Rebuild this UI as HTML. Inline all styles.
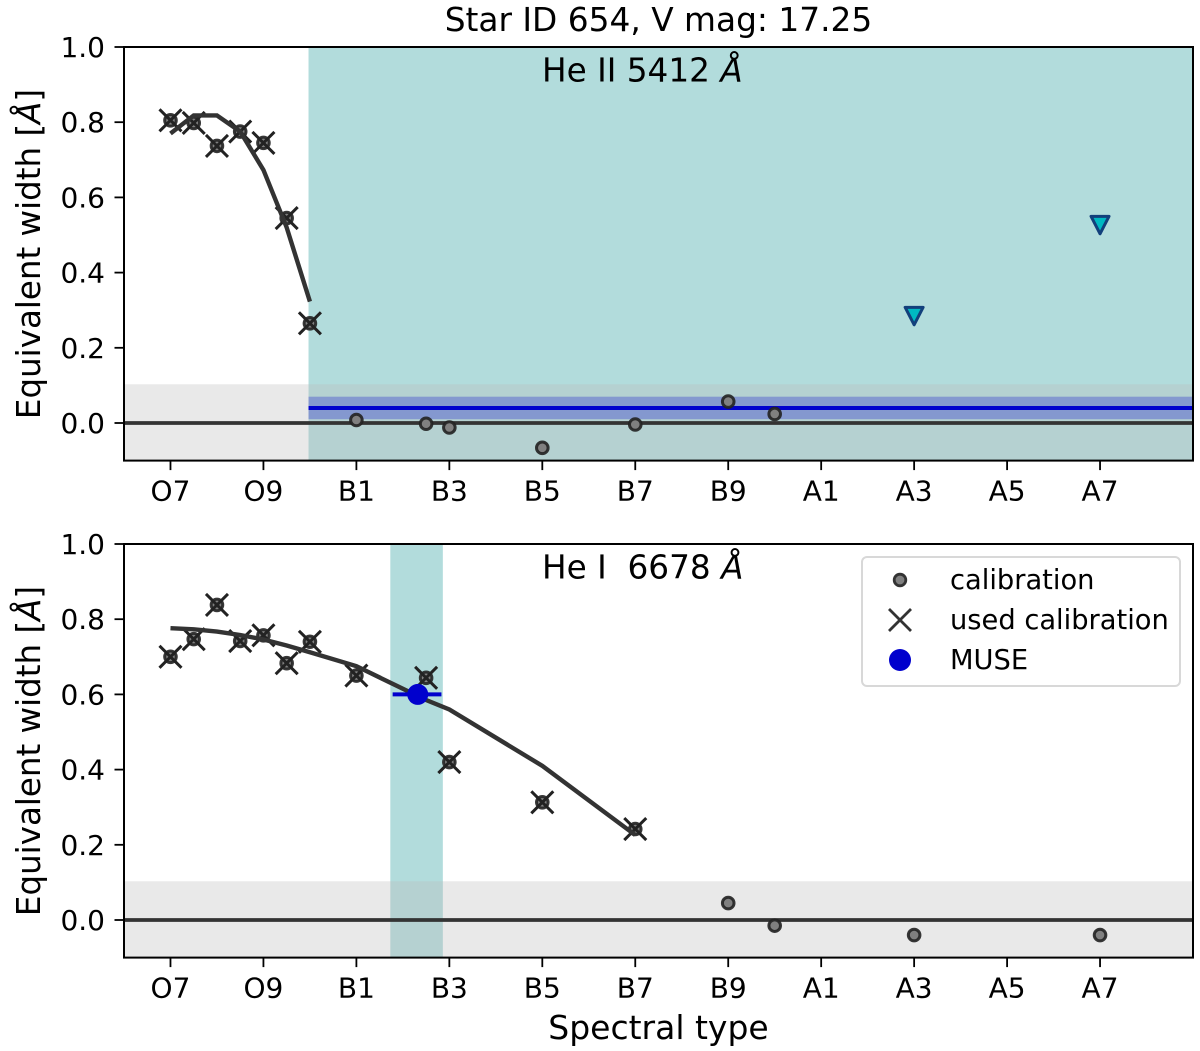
<!DOCTYPE html>
<html lang="en">
<head>
<meta charset="utf-8">
<title>Star ID 654 equivalent widths</title>
<style>
html,body{margin:0;padding:0;background:#fff;}
svg{display:block;}
text{font-family:"DejaVu Sans",sans-serif;fill:#000;}
</style>
</head>
<body>
<svg id="chart" xmlns="http://www.w3.org/2000/svg" width="1200" height="1051" viewBox="0 0 1200 1051">
<text x="658.5" y="31" font-size="32.8" text-anchor="middle">Star ID 654, V mag: 17.25</text>
<g id="panel-top"></g>
<g id="panel-bottom"></g>
<text x="658.5" y="1039" font-size="33" text-anchor="middle">Spectral type</text>
<g>
<rect x="862" y="557" width="318" height="129" rx="5" fill="#fff" stroke="#d8d8d8" stroke-width="2"/>
<circle cx="900" cy="580" r="5.8" fill="#808080" stroke="#333" stroke-width="2.8"/>
<text x="950" y="589" font-size="27.3">calibration</text>
<path d="M889 609L911 631M889 631L911 609" stroke="#333" stroke-width="2.8" fill="none"/>
<text x="950" y="629" font-size="27.3">used calibration</text>
<circle cx="900" cy="660" r="11" fill="#0000cd"/>
<text x="950" y="669" font-size="27.3">MUSE</text>
</g>
</svg>
<script>
const tickLabels = ['O7','O9','B1','B3','B5','B7','B9','A1','A3','A5','A7'];
const tickTypes = [0,2,4,6,8,10,12,14,16,18,20];
const yTicks = [0,0.2,0.4,0.6,0.8,1.0];

const topCalibX = [0,0.5,1,1.5,2,2.5,3,4,5.5,6,8,10,12,13];
const topCalibY = [0.805,0.798,0.737,0.775,0.745,0.545,0.265,0.008,-0.002,-0.012,-0.066,-0.004,0.057,0.024];
const topUsedX = [0,0.5,1,1.5,2,2.5,3];
const topUsedY = [0.805,0.798,0.737,0.775,0.745,0.545,0.265];
const topFitX = [0,0.5,1,1.5,2,2.5,3];
const topFitY = [0.77,0.818,0.818,0.775,0.673,0.52,0.323];
const topLimitX = [16,20];
const topLimitY = [0.285,0.527];
const topSpan = [2.97,22];
const topMuseValue = [0.04];
const topMuseRange = [0.01,0.07];

const bottomCalibX = [0,0.5,1,1.5,2,2.5,3,4,5.5,6,8,10,12,13,16,20];
const bottomCalibY = [0.70,0.747,0.838,0.742,0.757,0.683,0.74,0.65,0.644,0.42,0.313,0.242,0.045,-0.015,-0.04,-0.04];
const bottomUsedX = [0,0.5,1,1.5,2,2.5,3,4,5.5,6,8,10];
const bottomUsedY = [0.70,0.747,0.838,0.742,0.757,0.683,0.74,0.65,0.644,0.42,0.313,0.242];
const bottomFitX = [0,0.5,1,1.5,2,2.5,3,4,5.5,6,8,10];
const bottomFitY = [0.776,0.773,0.767,0.758,0.746,0.73,0.712,0.675,0.585,0.56,0.41,0.226];
const bottomSpan = [4.73,5.86];
const museX = [5.32];
const museY = [0.60];
const museXRange = [4.78,5.83];
const museYRange = [0.578,0.622];

const NS = 'http://www.w3.org/2000/svg';
const AX_LEFT = 124, AX_RIGHT = 1193, X_MIN = -1, X_MAX = 22;
const Y_MIN = -0.1, Y_MAX = 1.0, AX_H = 413.6;

function xScale(v){ return AX_LEFT + (v - X_MIN) / (X_MAX - X_MIN) * (AX_RIGHT - AX_LEFT); }
function yScale(v, top){ return top + (Y_MAX - v) / (Y_MAX - Y_MIN) * AX_H; }
function make(parent, tag, attrs){
  const el = document.createElementNS(NS, tag);
  for (const k in attrs) el.setAttribute(k, attrs[k]);
  parent.appendChild(el);
  return el;
}

function drawPanel(g, top, p){
  const y = v => yScale(v, top);
  const bg = make(g, 'rect', {x:AX_LEFT, y:top, width:AX_RIGHT-AX_LEFT, height:AX_H, fill:'#fff'});
  
  

  const span = make(g, 'rect', {x:xScale(p.span[0]), y:top, width:xScale(p.span[1])-xScale(p.span[0]), height:AX_H, fill:'rgb(178,220,220)'});
  
  

  const grey = make(g, 'rect', {x:AX_LEFT, y:y(0.103), width:AX_RIGHT-AX_LEFT, height:y(Y_MIN)-y(0.103), fill:'rgb(188,188,188)', 'fill-opacity':0.325});
  
  

  if (p.museValue) {
    const band = make(g, 'rect', {x:xScale(p.span[0]), y:y(p.museRange[1]), width:xScale(p.span[1])-xScale(p.span[0]), height:y(p.museRange[0])-y(p.museRange[1]), fill:'#0000cd', 'fill-opacity':0.27});
    
    
  }

  const zero = make(g, 'line', {x1:AX_LEFT, x2:AX_RIGHT, y1:y(0), y2:y(0), stroke:'#333', 'stroke-width':3.8});
  
  

  if (p.museValue) {
    const mline = make(g, 'line', {x1:xScale(p.span[0]), x2:xScale(p.span[1]), y1:y(p.museValue[0]), y2:y(p.museValue[0]), stroke:'#0000cd', 'stroke-width':4});
    
    
  }

  p.calibX.forEach((vx, i) => {
    const c = make(g, 'circle', {cx:xScale(vx), cy:y(p.calibY[i]), r:5.8, fill:'#808080', stroke:'#222', 'stroke-width':3, 'stroke-opacity':0.9});
    
    
  });

  p.usedX.forEach((vx, i) => {
    const cx = xScale(vx), cy = y(p.usedY[i]);
    const m = make(g, 'path', {d:`M${cx-11} ${cy-11}L${cx+11} ${cy+11}M${cx-11} ${cy+11}L${cx+11} ${cy-11}`, stroke:'#222', 'stroke-width':3, fill:'none'});
    
    
  });

  const fit = make(g, 'polyline', {points:p.fitX.map((vx,i)=>xScale(vx)+','+y(p.fitY[i])).join(' '), fill:'none', stroke:'#333', 'stroke-width':4.4});
  
  

  if (p.limitX) {
    p.limitX.forEach((vx, i) => {
      const cx = xScale(vx), cy = y(p.limitY[i]);
      const t = make(g, 'polygon', {points:`${cx-9},${cy-8.5} ${cx+9},${cy-8.5} ${cx},${cy+9}`, fill:'#00b9c2', stroke:'#12407c', 'stroke-width':3, 'stroke-linejoin':'round'});
      
      
    });
  }

  if (p.pointX) {
    const cx = xScale(p.pointX[0]), cy = y(p.pointY[0]);
    const eh = make(g, 'line', {x1:xScale(p.pointXRange[0]), x2:xScale(p.pointXRange[1]), y1:cy, y2:cy, stroke:'#0000cd', 'stroke-width':4});
    
    
    const ev = make(g, 'line', {x1:cx, x2:cx, y1:y(p.pointYRange[0]), y2:y(p.pointYRange[1]), stroke:'#0000cd', 'stroke-width':5});
    
    
    const pt = make(g, 'circle', {cx:cx, cy:cy, r:10.5, fill:'#0000cd'});
    
    
  }

  const frame = make(g, 'rect', {x:AX_LEFT, y:top, width:AX_RIGHT-AX_LEFT, height:AX_H, fill:'none', stroke:'#000', 'stroke-width':2});
  
  

  tickTypes.forEach((vx, i) => {
    const tx = xScale(vx), base = top + AX_H;
    const tick = make(g, 'line', {x1:tx, x2:tx, y1:base, y2:base+9.5, stroke:'#000', 'stroke-width':1.8});
    
    
    const lab = make(g, 'text', {x:tx, y:base+40, 'font-size':28, 'text-anchor':'middle'});
    lab.textContent = tickLabels[i];
    
    
  });

  yTicks.forEach(v => {
    const ty = y(v);
    const tick = make(g, 'line', {x1:AX_LEFT-9.5, x2:AX_LEFT, y1:ty, y2:ty, stroke:'#000', 'stroke-width':1.8});
    
    
    const lab = make(g, 'text', {x:105, y:ty+10, 'font-size':28, 'text-anchor':'end'});
    lab.textContent = v.toFixed(1);
    
    
  });

  const yTitle = make(g, 'text', {x:0, y:0, 'font-size':32.5, 'text-anchor':'middle', transform:`translate(40 ${top+207}) rotate(-90)`});
  yTitle.textContent = 'Equivalent width [';
  const yTitleA = make(yTitle, 'tspan', {'font-style':'italic'});
  yTitleA.textContent = 'Å';
  const yTitleEnd = make(yTitle, 'tspan', {});
  yTitleEnd.textContent = ']';
  
  

  const note = make(g, 'text', {x:542, y:top+34.5, 'font-size':32.7});
  note.textContent = p.label + '\u00a0';
  const noteA = make(note, 'tspan', {'font-style':'italic'});
  noteA.textContent = 'Å';
  
  
}

drawPanel(document.getElementById('panel-top'), 47, {
  span:topSpan, museValue:topMuseValue, museRange:topMuseRange,
  calibX:topCalibX, calibY:topCalibY, usedX:topUsedX, usedY:topUsedY,
  fitX:topFitX, fitY:topFitY, limitX:topLimitX, limitY:topLimitY, label:'He II 5412'
});
drawPanel(document.getElementById('panel-bottom'), 544, {
  span:bottomSpan,
  calibX:bottomCalibX, calibY:bottomCalibY, usedX:bottomUsedX, usedY:bottomUsedY,
  fitX:bottomFitX, fitY:bottomFitY,
  pointX:museX, pointY:museY, pointXRange:museXRange, pointYRange:museYRange, label:'He I\u00a0\u00a06678'
});
</script>
</body>
</html>
